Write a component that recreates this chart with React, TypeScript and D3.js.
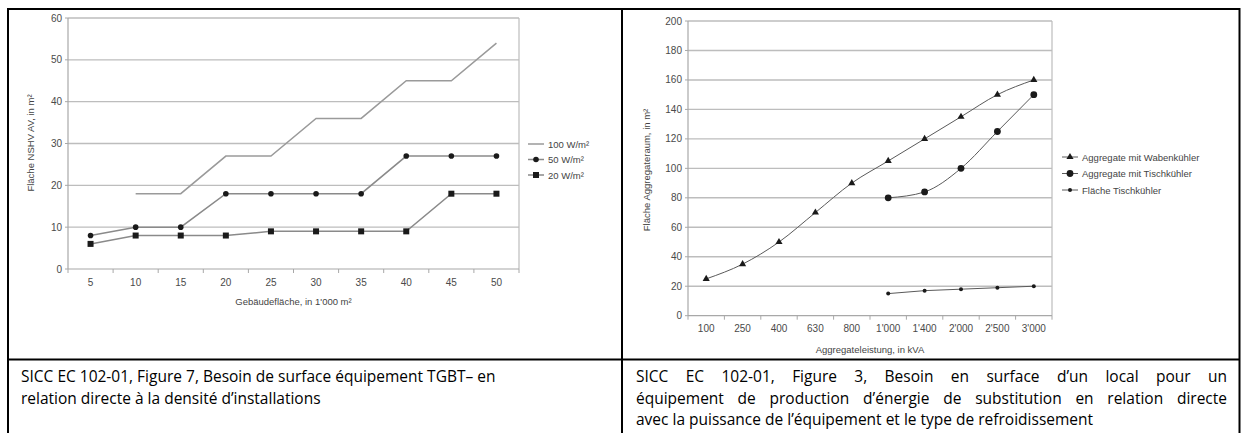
import React from 'react'
import * as d3 from 'd3'

// Figure 7 – surface NSHV vs. Gebäudefläche
const densCats = ['5', '10', '15', '20', '25', '30', '35', '40', '45', '50']
const dens100 = [null, 18, 18, 27, 27, 36, 36, 45, 45, 54]
const dens50 = [8, 10, 10, 18, 18, 18, 18, 27, 27, 27]
const dens20 = [6, 8, 8, 8, 9, 9, 9, 9, 18, 18]
const densTicks = [0, 10, 20, 30, 40, 50, 60]
const densLegend = ['100 W/m²', '50 W/m²', '20 W/m²']

// Figure 3 – Aggregateraum vs. Aggregateleistung
const kvaCats = ['100', '250', '400', '630', '800', "1'000", "1'400", "2'000", "2'500", "3'000"]
const waben = [25, 35, 50, 70, 90, 105, 120, 135, 150, 160]
const tisch = [null, null, null, null, null, 80, 84, 100, 125, 150]
const flaeche = [null, null, null, null, null, 15, 17, 18, 19, 20]
const kvaTicks = [0, 20, 40, 60, 80, 100, 120, 140, 160, 180, 200]
const kvaLegend = ['Aggregate mit Wabenkühler', 'Aggregate mit Tischkühler', 'Fläche Tischkühler']

const captionLeft = [
  'SICC EC 102-01, Figure 7, Besoin de surface équipement TGBT– en',
  'relation directe à la densité d’installations',
]
const captionRight = [
  'SICC EC 102-01, Figure 3, Besoin en surface d’un local pour un',
  'équipement de production d’énergie de substitution en relation directe',
  'avec la puissance de l’équipement et le type de refroidissement',
]

const chartFont = '"Liberation Sans", Arial, sans-serif'
const captionFont = '"Open Sans", "Noto Sans", sans-serif'

const drawMarker = (g, kind, x, y) => {
  if (kind === 'circle') g.append('circle').attr('cx', x).attr('cy', y).attr('r', 2.8).attr('fill', '#1a1a1a')
  if (kind === 'bigcircle') g.append('circle').attr('cx', x).attr('cy', y).attr('r', 3.4).attr('fill', '#1a1a1a')
  if (kind === 'dot') g.append('circle').attr('cx', x).attr('cy', y).attr('r', 2).attr('fill', '#1a1a1a')
  if (kind === 'square') g.append('rect').attr('x', x - 3).attr('y', y - 3).attr('width', 6).attr('height', 6).attr('fill', '#1a1a1a')
  if (kind === 'triangle') {
    g.append('path')
      .attr('d', d3.symbol(d3.symbolTriangle, 22)())
      .attr('transform', `translate(${x},${y})`)
      .attr('fill', '#1a1a1a')
  }
}

const drawChart = (svg, o) => {
  const g = svg.append('g').style('font-family', chartFont)
  const x = d3.scaleBand().domain(o.cats).range([o.left, o.right])
  const y = d3.scaleLinear().domain([0, o.yMax]).range([o.bottom, o.top])
  const cx = (c) => x(c) + x.bandwidth() / 2

  // grid
  g.selectAll('line.grid')
    .data(o.ticks.slice(1))
    .join('line')
    .attr('x1', o.left).attr('x2', o.right)
    .attr('y1', (d) => y(d)).attr('y2', (d) => y(d))
    .attr('stroke', '#bdbdbd').attr('stroke-width', 1.4)

  // frame: left, right, bottom
  g.append('line').attr('x1', o.left).attr('x2', o.left).attr('y1', o.top).attr('y2', o.bottom)
    .attr('stroke', '#a8a8a8').attr('stroke-width', 1.2)
  g.append('line').attr('x1', o.right).attr('x2', o.right).attr('y1', o.top).attr('y2', o.bottom)
    .attr('stroke', '#bdbdbd').attr('stroke-width', 1.2)
  g.append('line').attr('x1', o.left).attr('x2', o.right).attr('y1', o.bottom).attr('y2', o.bottom)
    .attr('stroke', '#a8a8a8').attr('stroke-width', 1.2)

  // y ticks
  g.selectAll('line.ytick')
    .data(o.ticks)
    .join('line')
    .attr('x1', o.left - 3).attr('x2', o.left)
    .attr('y1', (d) => y(d)).attr('y2', (d) => y(d))
    .attr('stroke', '#a8a8a8')
  g.selectAll('text.ylab')
    .data(o.ticks)
    .join('text')
    .attr('x', o.left - 6)
    .attr('y', (d) => y(d) + 3.5)
    .attr('text-anchor', 'end')
    .attr('font-size', 10)
    .attr('fill', '#4a4a4a')
    .text((d) => d)

  // x ticks at band boundaries
  const bounds = o.cats.map((c) => x(c)).concat([o.right])
  g.selectAll('line.xtick')
    .data(bounds)
    .join('line')
    .attr('x1', (d) => d).attr('x2', (d) => d)
    .attr('y1', o.bottom).attr('y2', o.bottom + 4)
    .attr('stroke', '#a8a8a8')
  g.selectAll('text.xlab')
    .data(o.cats)
    .join('text')
    .attr('x', (d) => cx(d))
    .attr('y', o.xLabY)
    .attr('text-anchor', 'middle')
    .attr('font-size', 10)
    .attr('fill', '#4a4a4a')
    .text((d) => d)

  // titles
  g.append('text')
    .attr('x', (o.left + o.right) / 2).attr('y', o.xTitleY)
    .attr('text-anchor', 'middle').attr('font-size', 9.5).attr('fill', '#444')
    .text(o.xTitle)
  g.append('text')
    .attr('transform', `translate(${o.yTitleX},${o.yTitleY}) rotate(-90)`)
    .attr('text-anchor', 'middle').attr('font-size', 9.5).attr('fill', '#444')
    .text(o.yTitle)

  // series
  o.series.forEach((s) => {
    const pts = o.cats.map((c, i) => [c, s.values[i]]).filter((p) => p[1] != null)
    const line = d3.line()
      .x((p) => cx(p[0]))
      .y((p) => y(p[1]))
      .curve(s.curve || d3.curveLinear)
    g.append('path')
      .datum(pts)
      .attr('d', line)
      .attr('fill', 'none')
      .attr('stroke', s.color)
      .attr('stroke-width', s.width)
    pts.forEach((p) => drawMarker(g, s.marker, cx(p[0]), y(p[1])))
  })

  // legend
  o.series.forEach((s, i) => {
    const ly = o.legendY + i * o.legendDy
    g.append('line')
      .attr('x1', o.legendX).attr('x2', o.legendX + 16)
      .attr('y1', ly).attr('y2', ly)
      .attr('stroke', s.color).attr('stroke-width', s.width)
    drawMarker(g, s.marker, o.legendX + 8, ly)
    g.append('text')
      .attr('x', o.legendX + 20).attr('y', ly + 3.5)
      .attr('font-size', 9.5).attr('fill', '#444')
      .text(o.legend[i])
  })
}

const App = () => {
  const svgRef = React.useRef(null)

  React.useEffect(() => {
    const svg = d3.select(svgRef.current)
    svg.selectAll('*').remove()

    drawChart(svg, {
      cats: densCats,
      left: 68, right: 519, top: 18, bottom: 269,
      yMax: 60, ticks: densTicks,
      xLabY: 286, xTitleY: 305,
      xTitle: "Gebäudefläche, in 1'000 m²",
      yTitle: 'Fläche NSHV AV, in m²', yTitleX: 34, yTitleY: 143,
      legend: densLegend, legendX: 528, legendY: 144, legendDy: 15.5,
      series: [
        { values: dens100, marker: 'none', color: '#9a9a9a', width: 1.5 },
        { values: dens50, marker: 'circle', color: '#8a8a8a', width: 1.5 },
        { values: dens20, marker: 'square', color: '#8a8a8a', width: 1.5 },
      ],
    })

    drawChart(svg, {
      cats: kvaCats,
      left: 688, right: 1052, top: 21, bottom: 315.7,
      yMax: 200, ticks: kvaTicks,
      xLabY: 331.5, xTitleY: 353,
      xTitle: 'Aggregateleistung, in kVA',
      yTitle: 'Fläche Aggregateraum, in m²', yTitleX: 650, yTitleY: 170,
      legend: kvaLegend, legendX: 1062, legendY: 157, legendDy: 16.5,
      series: [
        { values: waben, marker: 'triangle', color: '#5a5a5a', width: 1, curve: d3.curveMonotoneX },
        { values: tisch, marker: 'bigcircle', color: '#5a5a5a', width: 1, curve: d3.curveMonotoneX },
        { values: flaeche, marker: 'dot', color: '#5a5a5a', width: 1 },
      ],
    })

    // table frame
    const t = svg.append('g').attr('stroke', '#000').attr('stroke-width', 2).attr('fill', 'none')
    t.append('rect').attr('x', 8).attr('y', 9).attr('width', 1231.5).attr('height', 440)
    t.append('line').attr('x1', 8).attr('x2', 1239.5).attr('y1', 359.5).attr('y2', 359.5)
    t.append('line').attr('x1', 622).attr('x2', 622).attr('y1', 9).attr('y2', 440)

    // captions
    const cap = svg.append('g').style('font-family', captionFont).attr('font-size', 15.5).attr('fill', '#000')
    captionLeft.forEach((l, i) => {
      cap.append('text').attr('x', 21).attr('y', 382 + i * 21.5).text(l)
    })
    captionRight.forEach((l, i) => {
      const ty = 382 + i * 21.5
      if (i === captionRight.length - 1) {
        cap.append('text').attr('x', 636).attr('y', ty).text(l)
        return
      }
      // justified line: place words individually
      const words = l.split(' ')
      const widths = words.map((w) => {
        const tmp = cap.append('text').text(w)
        const wd = tmp.node().getComputedTextLength()
        tmp.remove()
        return wd
      })
      const gap = (1227 - 636 - d3.sum(widths)) / (words.length - 1)
      let wx = 636
      words.forEach((w, k) => {
        cap.append('text').attr('x', wx).attr('y', ty).text(w)
        wx += widths[k] + gap
      })
    })
  }, [])

  return (
    <svg
      ref={svgRef}
      width={1246}
      height={433}
      style={{ position: 'absolute', left: 0, top: 0, background: '#fff' }}
    />
  )
}

export default App
